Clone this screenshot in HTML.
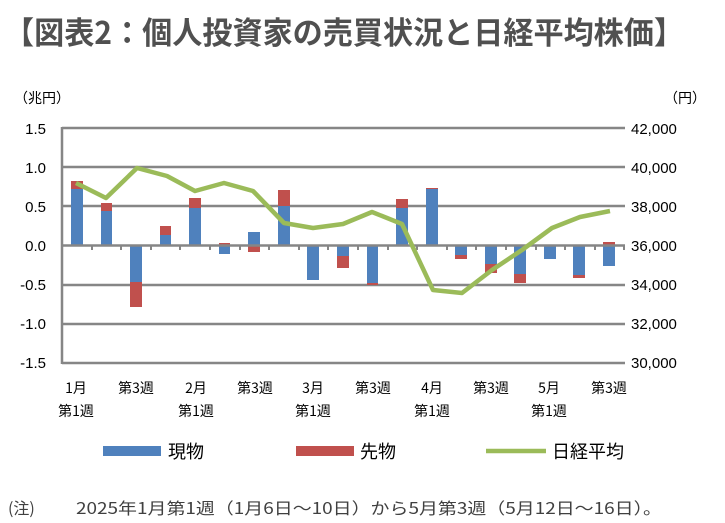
<!DOCTYPE html><html><head><meta charset="utf-8"><style>
body{margin:0;background:#fff;width:725px;height:518px;overflow:hidden;font-family:"Liberation Sans","Noto Sans CJK JP",sans-serif;}
</style></head><body>
<svg width="725" height="518" xmlns="http://www.w3.org/2000/svg" font-family="Liberation Sans, Noto Sans CJK JP, sans-serif">
<text x="4" y="44" font-size="31" font-weight="bold" fill="#505050" textLength="680" lengthAdjust="spacingAndGlyphs" font-family="Noto Sans CJK JP, sans-serif">【図表2：個人投資家の売買状況と日経平均株価】</text>
<g stroke="#868686" stroke-width="2.5">
<line x1="62" y1="128" x2="625" y2="128"/><line x1="62" y1="167" x2="625" y2="167"/>
<line x1="62" y1="206" x2="625" y2="206"/><line x1="62" y1="285" x2="625" y2="285"/>
<line x1="62" y1="324" x2="625" y2="324"/><line x1="62" y1="363" x2="625" y2="363"/>
<line x1="62" y1="127" x2="62" y2="364"/>
</g>
<g fill="#4f81bd">
<rect x="71" y="189" width="12" height="56"/><rect x="101" y="211" width="11" height="34"/>
<rect x="130" y="245" width="12" height="37"/><rect x="160" y="235" width="11" height="10"/>
<rect x="189" y="208" width="12" height="37"/><rect x="219" y="245" width="11" height="9"/>
<rect x="248" y="232" width="12" height="13"/><rect x="278" y="206" width="12" height="39"/>
<rect x="307" y="245" width="12" height="35"/><rect x="337" y="245" width="12" height="11"/>
<rect x="367" y="245" width="11" height="38"/><rect x="396" y="208" width="12" height="37"/>
<rect x="426" y="189" width="12" height="56"/><rect x="455" y="245" width="12" height="10"/>
<rect x="485" y="245" width="12" height="19"/><rect x="514" y="245" width="12" height="29"/>
<rect x="544" y="245" width="12" height="14"/><rect x="573" y="245" width="12" height="30"/>
<rect x="603" y="245" width="12" height="21"/>
</g>
<g fill="#c0504d">
<rect x="71" y="181" width="12" height="8"/><rect x="101" y="203" width="11" height="8"/>
<rect x="130" y="282" width="12" height="25"/><rect x="160" y="226" width="11" height="9"/>
<rect x="189" y="198" width="12" height="10"/><rect x="219" y="243" width="11" height="2"/>
<rect x="248" y="245" width="12" height="7"/><rect x="278" y="190" width="12" height="16"/>
<rect x="337" y="256" width="12" height="12"/><rect x="367" y="283" width="11" height="2"/>
<rect x="396" y="199" width="12" height="9"/><rect x="426" y="188" width="12" height="1"/>
<rect x="455" y="255" width="12" height="4"/><rect x="485" y="264" width="12" height="9"/>
<rect x="514" y="274" width="12" height="9"/><rect x="573" y="275" width="12" height="3"/>
<rect x="603" y="242" width="12" height="3"/>
</g>
<g stroke="#868686" stroke-width="2.5">
<line x1="62" y1="245.5" x2="625" y2="245.5"/>
</g>
<g stroke="#868686" stroke-width="2">
<line x1="92" y1="245" x2="92" y2="250"/><line x1="121" y1="245" x2="121" y2="250"/><line x1="151" y1="245" x2="151" y2="250"/><line x1="180" y1="245" x2="180" y2="250"/><line x1="210" y1="245" x2="210" y2="250"/><line x1="240" y1="245" x2="240" y2="250"/><line x1="269" y1="245" x2="269" y2="250"/><line x1="299" y1="245" x2="299" y2="250"/><line x1="328" y1="245" x2="328" y2="250"/><line x1="358" y1="245" x2="358" y2="250"/><line x1="388" y1="245" x2="388" y2="250"/><line x1="417" y1="245" x2="417" y2="250"/><line x1="447" y1="245" x2="447" y2="250"/><line x1="476" y1="245" x2="476" y2="250"/><line x1="506" y1="245" x2="506" y2="250"/><line x1="536" y1="245" x2="536" y2="250"/><line x1="565" y1="245" x2="565" y2="250"/><line x1="595" y1="245" x2="595" y2="250"/><line x1="624" y1="245" x2="624" y2="250"/>
</g>
<polyline fill="none" stroke="#9bbb59" stroke-width="4.5" stroke-linejoin="round" points="76,183 106,198 137,168 167,176 195,191 224,183 253,191 284,223 313,228 343,224 372,212 402,224 433,290 462,293 492,270 522,250 552,228 580,217 610,211"/>
<g font-size="15" fill="#000" text-anchor="end">
<text x="46" y="134">1.5</text><text x="46" y="173">1.0</text><text x="46" y="212">0.5</text><text x="46" y="251">0.0</text><text x="46" y="290">-0.5</text><text x="46" y="329">-1.0</text><text x="46" y="368">-1.5</text>
</g>
<g font-size="15" fill="#000">
<text x="631" y="134">42,000</text><text x="631" y="173">40,000</text><text x="631" y="212">38,000</text><text x="631" y="251">36,000</text><text x="631" y="290">34,000</text><text x="631" y="329">32,000</text><text x="631" y="368">30,000</text>
</g>
<g font-size="14" fill="#000" font-family="Noto Sans CJK JP, sans-serif">
<text x="14" y="103">（兆円）</text><text x="664" y="103">（円）</text>
</g>
<g font-size="14" fill="#000" text-anchor="middle" font-family="Noto Sans CJK JP, sans-serif">
<text x="76" y="393">1月</text><text x="76" y="416">第1週</text>
<text x="136" y="393">第3週</text>
<text x="196" y="393">2月</text><text x="196" y="416">第1週</text>
<text x="255" y="393">第3週</text>
<text x="313" y="393">3月</text><text x="313" y="416">第1週</text>
<text x="373" y="393">第3週</text>
<text x="432" y="393">4月</text><text x="432" y="416">第1週</text>
<text x="491" y="393">第3週</text>
<text x="549" y="393">5月</text><text x="549" y="416">第1週</text>
<text x="609" y="393">第3週</text>
</g>
<rect x="103" y="446" width="58" height="10" fill="#4f81bd"/>
<rect x="296" y="446" width="58" height="10" fill="#c0504d"/>
<line x1="486" y1="451" x2="546" y2="451" stroke="#9bbb59" stroke-width="4.5"/>
<g font-size="18" fill="#000" font-family="Noto Sans CJK JP, sans-serif">
<text x="168" y="458">現物</text><text x="360" y="458">先物</text><text x="552" y="458">日経平均</text>
</g>
<g font-size="16" fill="#404040" font-family="Noto Sans CJK JP, sans-serif">
<text x="8" y="514">(注)</text>
<text x="76" y="514" textLength="586" lengthAdjust="spacingAndGlyphs">2025年1月第1週（1月6日～10日）から5月第3週（5月12日～16日）。</text>
</g>
</svg>
</body></html>
